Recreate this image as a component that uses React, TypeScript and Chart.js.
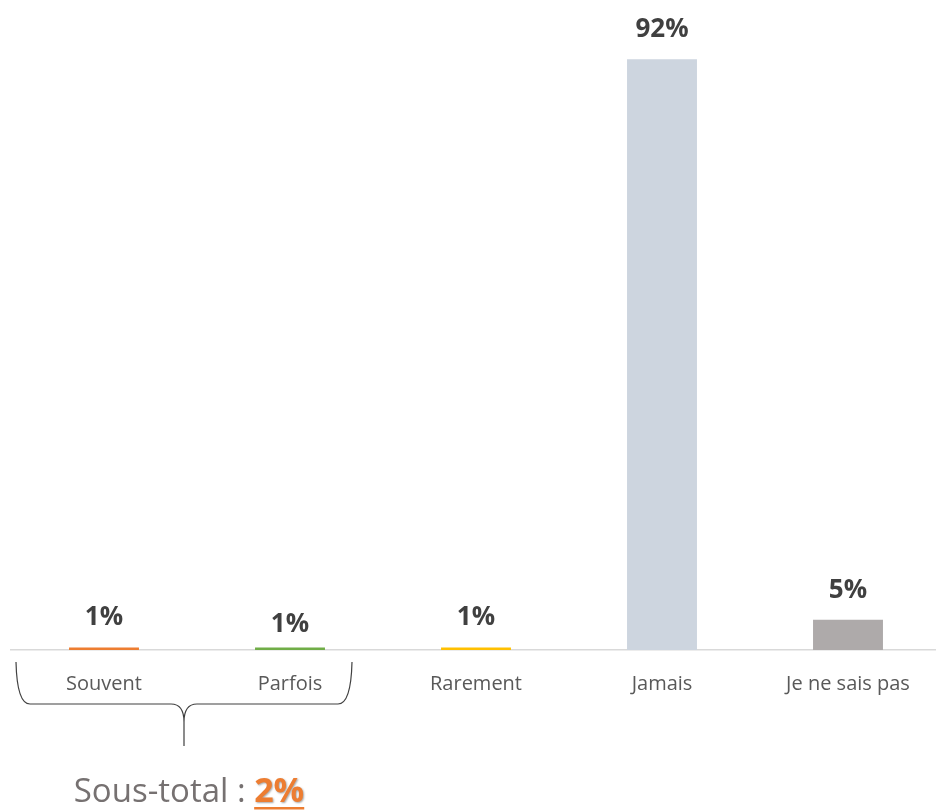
import React, { useEffect, useRef } from "react";
import { Chart, registerables } from "chart.js";

Chart.register(...registerables);

const categories = ["Souvent", "Parfois", "Rarement", "Jamais", "Je ne sais pas"];
const values = [0.4, 0.4, 0.4, 92, 4.7];
const valueLabels = ["1%", "1%", "1%", "92%", "5%"];
const barColors = ["#ED7D31", "#70AD47", "#FFC000", "#CDD5DF", "#AEAAAA"];
const subtotalLabel = "Sous-total : ";
const subtotalValue = "2%";

const FONT = "'Open Sans', 'DejaVu Sans', sans-serif";

const labelPlugin = {
  id: "valueLabels",
  afterDatasetsDraw(chart: any) {
    const ctx = chart.ctx;
    const meta = chart.getDatasetMeta(0);
    const nudge = [0, 7, 0, 0, 0];
    ctx.save();
    ctx.font = `bold 26px ${FONT}`;
    ctx.fillStyle = "#404040";
    ctx.textAlign = "center";
    ctx.textBaseline = "alphabetic";
    meta.data.forEach((bar: any, i: number) => {
      ctx.fillText(valueLabels[i], bar.x, bar.y - 22 + nudge[i]);
    });
    ctx.restore();
  },
};

const bracePlugin = {
  id: "brace",
  afterDraw(chart: any) {
    const ctx = chart.ctx;
    const xs = chart.scales.x;
    const left = xs.getPixelForValue(0) - 88;
    const right = xs.getPixelForValue(1) + 62;
    const mid = (left + right) / 2;
    const top = 662;
    const hy = 704;
    const tip = 746;
    ctx.save();
    ctx.strokeStyle = "#404040";
    ctx.lineWidth = 1.2;
    ctx.beginPath();
    ctx.moveTo(left, top);
    ctx.quadraticCurveTo(left + 1, hy, left + 14, hy);
    ctx.lineTo(mid - 13, hy);
    ctx.quadraticCurveTo(mid, hy, mid, hy + 18);
    ctx.lineTo(mid, tip);
    ctx.moveTo(mid, hy + 18);
    ctx.quadraticCurveTo(mid, hy, mid + 13, hy);
    ctx.lineTo(right - 14, hy);
    ctx.quadraticCurveTo(right - 1, hy, right, top);
    ctx.stroke();

    // subtotal text
    const baseY = 802;
    ctx.font = `33px ${FONT}`;
    const w1 = ctx.measureText(subtotalLabel).width;
    ctx.font = `bold 34px ${FONT}`;
    const w2 = ctx.measureText(subtotalValue).width;
    const startX = mid + 5 - (w1 + w2) / 2;
    ctx.textAlign = "left";
    ctx.textBaseline = "alphabetic";
    ctx.font = `33px ${FONT}`;
    ctx.fillStyle = "#767171";
    ctx.fillText(subtotalLabel, startX, baseY);
    ctx.font = `bold 34px ${FONT}`;
    ctx.shadowColor = "rgba(0,0,0,0.35)";
    ctx.shadowOffsetX = 1;
    ctx.shadowOffsetY = 1;
    ctx.shadowBlur = 2;
    ctx.fillStyle = "#ED7D31";
    ctx.fillText(subtotalValue, startX + w1, baseY);
    ctx.shadowColor = "transparent";
    ctx.fillRect(startX + w1, baseY + 5, w2, 2.5);
    ctx.restore();
  },
};

export default function App() {
  const ref = useRef<HTMLCanvasElement>(null);
  useEffect(() => {
    document.body.style.margin = "0";
    const chart = new Chart(ref.current as HTMLCanvasElement, {
      type: "bar",
      data: {
        labels: categories,
        datasets: [
          {
            data: values,
            backgroundColor: barColors,
            borderWidth: 0,
            categoryPercentage: 1,
            barPercentage: 0.376,
          },
        ],
      },
      options: {
        responsive: false,
        animation: false,
        events: [],
        layout: { padding: { left: 11, right: 9, top: 8, bottom: 0 } },
        plugins: {
          legend: { display: false },
          tooltip: { enabled: false },
        },
        scales: {
          x: {
            grid: { display: false, drawTicks: false },
            border: { display: true, color: "#D9D9D9", width: 1.5 },
            ticks: {
              color: "#595959",
              font: { family: FONT, size: 20 },
              padding: 22,
              maxRotation: 0,
              autoSkip: false,
            },
            afterFit: (s: any) => {
              s.height = 161;
            },
          },
          y: {
            display: false,
            min: 0,
            max: 100,
          },
        },
      },
      plugins: [labelPlugin, bracePlugin],
    });
    return () => chart.destroy();
  }, []);
  return (
    <div style={{ position: "absolute", left: 0, top: 0, width: 936, height: 811, overflow: "hidden", background: "#fff" }}>
      <canvas ref={ref} width={950} height={811} style={{ display: "block" }} />
    </div>
  );
}
